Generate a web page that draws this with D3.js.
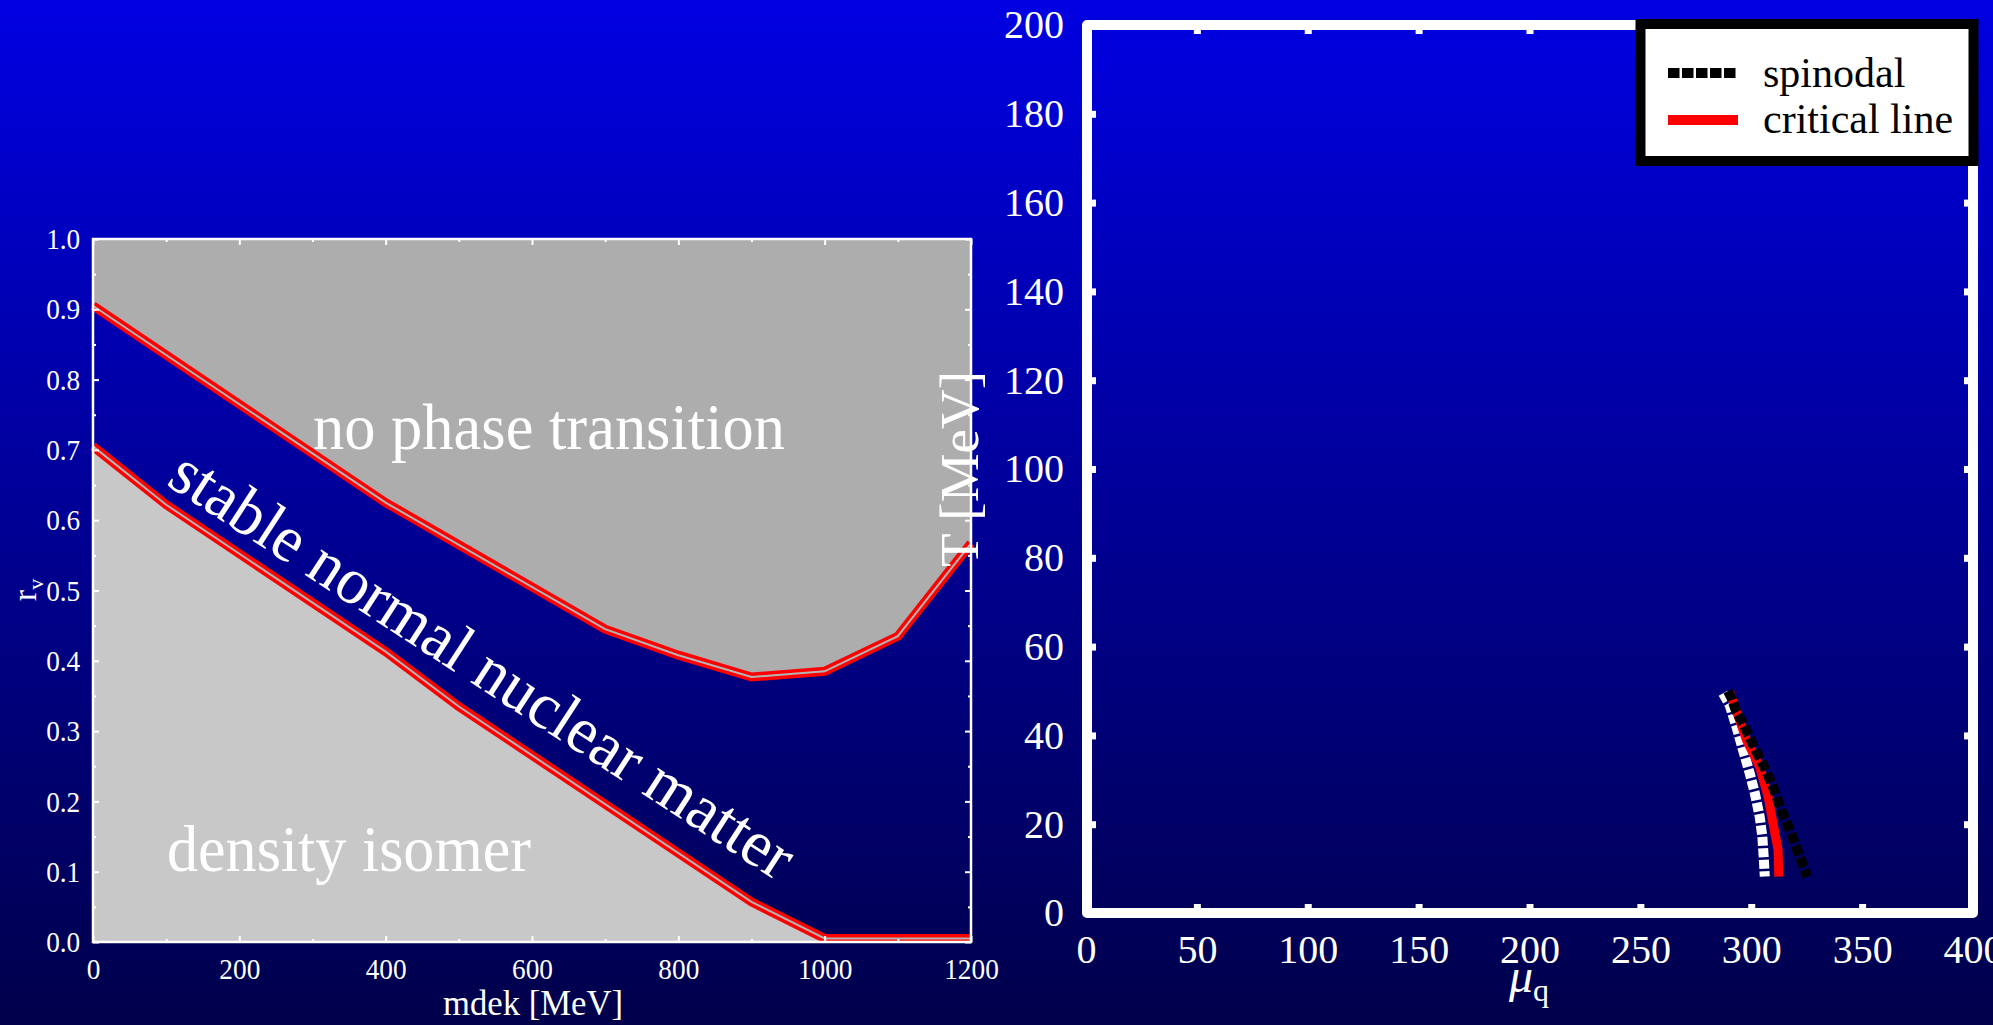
<!DOCTYPE html>
<html>
<head>
<meta charset="utf-8">
<script src="https://cdn.jsdelivr.net/npm/d3@7"></script>
<style>
  html, body { margin: 0; padding: 0; background: #000060; }
  svg { display: block; }
  text { font-family: "Liberation Serif", "Times New Roman", serif; fill: #fff; }
</style>
</head>
<body>
<svg width="1993" height="1025"></svg>
<script>
// left panel: phase boundaries in the (mdek, r_v) plane
const upperMdek = [0, 100, 400, 700, 800, 900, 1000, 1100, 1200];
const upperRv = [0.905, 0.835, 0.625, 0.445, 0.408, 0.377, 0.385, 0.435, 0.567];
const lowerMdek = [0, 100, 400, 500, 900, 1000, 1100, 1200];
const lowerRv = [0.705, 0.622, 0.413, 0.335, 0.057, 0.005, 0.005, 0.005];
const leftXTicks = [0, 200, 400, 600, 800, 1000, 1200];
const leftYTicks = [0.0, 0.1, 0.2, 0.3, 0.4, 0.5, 0.6, 0.7, 0.8, 0.9, 1.0];

// right panel: spinodals and critical line in the (mu_q, T) plane
const spinLowMu = [287.3, 290.3, 293.3, 296.3, 299.3, 301.6, 303.8, 305.0, 305.6, 306.1];
const spinLowT = [49.5, 46.8, 42.0, 36.7, 31.5, 27.0, 21.7, 17.2, 12.7, 8.2];
const criticalMu = [290.3, 297.8, 303.8, 307.6, 309.8, 312.1, 312.4];
const criticalT = [49.8, 39.0, 32.9, 26.2, 20.2, 14.2, 8.2];
const spinHighMu = [289.5, 291.1, 293.3, 296.3, 301.6, 306.1, 309.8, 313.6, 318.1, 321.8, 325.3];
const spinHighT = [50.0, 48.4, 45.3, 42.7, 37.1, 32.6, 28.4, 23.2, 17.9, 12.7, 8.2];
const rightXTicks = [0, 50, 100, 150, 200, 250, 300, 350, 400];
const rightYTicks = [0, 20, 40, 60, 80, 100, 120, 140, 160, 180, 200];
const legendLabels = ["spinodal", "critical line"];

const SERIF = "'Liberation Serif', 'Times New Roman', serif";
const svg = d3.select("svg");

// background gradient
const defs = svg.append("defs");
const grad = defs.append("linearGradient")
  .attr("id", "bg").attr("x1", 0).attr("y1", 0).attr("x2", 0).attr("y2", 1);
grad.append("stop").attr("offset", "0%").attr("stop-color", "#0000e2");
grad.append("stop").attr("offset", "100%").attr("stop-color", "#00004a");
svg.append("rect").attr("width", 1993).attr("height", 1025).attr("fill", "url(#bg)");

// ---------- left panel ----------
const xL = d3.scaleLinear().domain([0, 1200]).range([93, 971]);
const yL = d3.scaleLinear().domain([0, 1]).range([942, 239]);

const upper = upperMdek.map((m, i) => ({ x: m, y: upperRv[i] }));
const lower = lowerMdek.map((m, i) => ({ x: m, y: lowerRv[i] }));

const left = svg.append("g");

left.append("path")
  .datum(upper)
  .attr("fill", "#adadad")
  .attr("d", d3.area().x(d => xL(d.x)).y0(yL(1)).y1(d => yL(d.y)));

left.append("path")
  .datum(lower)
  .attr("fill", "#c8c8c8")
  .attr("d", d3.area().x(d => xL(d.x)).y0(yL(0)).y1(d => yL(d.y)));

const lineL = d3.line().x(d => xL(d.x)).y(d => yL(d.y));
[upper, lower].forEach(pts => {
  left.append("path").datum(pts)
    .attr("fill", "none").attr("stroke", "#ff0000").attr("stroke-width", 9)
    .attr("d", lineL);
  left.append("path").datum(pts)
    .attr("fill", "none").attr("stroke", "#b4b4b4").attr("stroke-width", 2)
    .attr("d", lineL);
});

// axes (ticks point inward)
function styleAxis(g) {
  g.attr("font-family", SERIF);
  g.select(".domain").remove();
  g.selectAll("line").attr("stroke", "#fff").attr("stroke-width", 2);
  g.selectAll("text")
    .attr("fill", "#fff")
    .attr("font-family", SERIF)
    .style("font-family", SERIF)
    .style("font-size", "30px");
}

const minorX = d3.range(100, 1200, 200);
const minorY = d3.range(0.05, 1, 0.1);

left.append("g").attr("transform", "translate(0,942)")
  .call(d3.axisBottom(xL).tickValues(leftXTicks).tickSize(-6).tickPadding(16).tickFormat(d3.format("d")))
  .call(styleAxis)
  .call(g => g.selectAll("text").attr("transform", "scale(0.91,1)"));
left.append("g").attr("transform", "translate(0,942)")
  .call(d3.axisBottom(xL).tickValues(minorX).tickSize(-3).tickFormat(""))
  .call(styleAxis);
left.append("g").attr("transform", "translate(0,239)")
  .call(d3.axisTop(xL).tickValues(leftXTicks).tickSize(-6).tickFormat(""))
  .call(styleAxis);
left.append("g").attr("transform", "translate(0,239)")
  .call(d3.axisTop(xL).tickValues(minorX).tickSize(-3).tickFormat(""))
  .call(styleAxis);
left.append("g").attr("transform", "translate(93,0)")
  .call(d3.axisLeft(yL).tickValues(leftYTicks).tickSize(-6).tickPadding(14).tickFormat(d3.format(".1f")))
  .call(styleAxis)
  .call(g => g.selectAll("text").attr("transform", "scale(0.91,1)"));
left.append("g").attr("transform", "translate(93,0)")
  .call(d3.axisLeft(yL).tickValues(minorY).tickSize(-3).tickFormat(""))
  .call(styleAxis);
left.append("g").attr("transform", "translate(971,0)")
  .call(d3.axisRight(yL).tickValues(leftYTicks).tickSize(-6).tickFormat(""))
  .call(styleAxis);
left.append("g").attr("transform", "translate(971,0)")
  .call(d3.axisRight(yL).tickValues(minorY).tickSize(-3).tickFormat(""))
  .call(styleAxis);

left.append("rect")
  .attr("x", 93).attr("y", 239).attr("width", 971 - 93).attr("height", 942 - 239)
  .attr("fill", "none").attr("stroke", "#fff").attr("stroke-width", 2.5);

left.append("text")
  .attr("x", 533).attr("y", 1015).attr("text-anchor", "middle")
  .attr("textLength", 180).attr("lengthAdjust", "spacingAndGlyphs")
  .style("font-size", "35px")
  .text("mdek [MeV]");

const rv = left.append("text")
  .attr("transform", "translate(36,590) rotate(-90)")
  .attr("text-anchor", "middle")
  .style("font-size", "34px");
rv.append("tspan").text("r");
rv.append("tspan").attr("dy", 7).style("font-size", "22px").text("v");

left.append("text")
  .attr("x", 313).attr("y", 449)
  .attr("textLength", 472).attr("lengthAdjust", "spacingAndGlyphs")
  .style("font-size", "66px")
  .text("no phase transition");

left.append("text")
  .attr("x", 167).attr("y", 871)
  .attr("textLength", 364).attr("lengthAdjust", "spacingAndGlyphs")
  .style("font-size", "66px")
  .text("density isomer");

left.append("text")
  .attr("transform", "translate(165,484) rotate(33)")
  .attr("textLength", 730).attr("lengthAdjust", "spacingAndGlyphs")
  .style("font-size", "66px")
  .text("stable normal nuclear matter");

// ---------- right panel ----------
const xR = d3.scaleLinear().domain([0, 400]).range([1086, 1973]);
const yR = d3.scaleLinear().domain([0, 200]).range([913, 25]);
const right = svg.append("g");

const lineR = d3.line().x(d => xR(d.x)).y(d => yR(d.y));
const toPts = (xs, ys) => xs.map((v, i) => ({ x: v, y: ys[i] }));

right.append("path").datum(toPts(spinLowMu, spinLowT))
  .attr("fill", "none").attr("stroke", "#fff").attr("stroke-width", 10)
  .attr("stroke-dasharray", "9,2.5").attr("d", lineR);
right.append("path").datum(toPts(criticalMu, criticalT))
  .attr("fill", "none").attr("stroke", "#ff0000").attr("stroke-width", 9)
  .attr("d", lineR);
right.append("path").datum(toPts(spinHighMu, spinHighT))
  .attr("fill", "none").attr("stroke", "#000").attr("stroke-width", 10)
  .attr("stroke-dasharray", "10,3").attr("d", lineR);

function styleAxisR(g) {
  g.attr("font-family", SERIF);
  g.select(".domain").remove();
  g.selectAll("line").attr("stroke", "#fff").attr("stroke-width", 7);
  g.selectAll("text")
    .attr("fill", "#fff")
    .attr("font-family", SERIF)
    .style("font-family", SERIF)
    .style("font-size", "40px");
}

right.append("g").attr("transform", "translate(0,913)")
  .call(d3.axisBottom(xR).tickValues(rightXTicks).tickSize(-9).tickPadding(22))
  .call(styleAxisR);
right.append("g").attr("transform", "translate(0,25)")
  .call(d3.axisTop(xR).tickValues(rightXTicks).tickSize(-9).tickFormat(""))
  .call(styleAxisR);
right.append("g").attr("transform", "translate(1087,0)")
  .call(d3.axisLeft(yR).tickValues(rightYTicks).tickSize(-9).tickPadding(23))
  .call(styleAxisR);
right.append("g").attr("transform", "translate(1973,0)")
  .call(d3.axisRight(yR).tickValues(rightYTicks).tickSize(-9).tickFormat(""))
  .call(styleAxisR);

right.append("rect")
  .attr("x", 1087).attr("y", 25).attr("width", 1973 - 1087).attr("height", 913 - 25)
  .attr("fill", "none").attr("stroke", "#fff").attr("stroke-width", 10)
  .attr("stroke-linejoin", "round");

// legend
const leg = right.append("g");
leg.append("rect")
  .attr("x", 1640.5).attr("y", 24).attr("width", 333).attr("height", 137)
  .attr("fill", "#fff").attr("stroke", "#000").attr("stroke-width", 10);
leg.append("line")
  .attr("x1", 1668).attr("x2", 1738).attr("y1", 73).attr("y2", 73)
  .attr("stroke", "#000").attr("stroke-width", 10).attr("stroke-dasharray", "11.5,2.5");
leg.append("line")
  .attr("x1", 1668).attr("x2", 1738).attr("y1", 120).attr("y2", 120)
  .attr("stroke", "#ff0000").attr("stroke-width", 10);
leg.selectAll("text.lab").data(legendLabels).join("text")
  .attr("class", "lab")
  .attr("x", 1763).attr("y", (d, i) => 87 + i * 46)
  .style("fill", "#000").style("font-size", "42px")
  .text(d => d);

// axis titles
const mu = right.append("text")
  .attr("x", 1529).attr("y", 992).attr("text-anchor", "middle")
  .style("font-size", "48px");
mu.append("tspan").style("font-style", "italic").text("μ");
mu.append("tspan").attr("dy", 9).style("font-size", "32px").text("q");

right.append("text")
  .attr("transform", "translate(978,469) rotate(-90)")
  .attr("text-anchor", "middle")
  .style("font-size", "55px")
  .text("T [MeV]");
</script>
</body>
</html>
